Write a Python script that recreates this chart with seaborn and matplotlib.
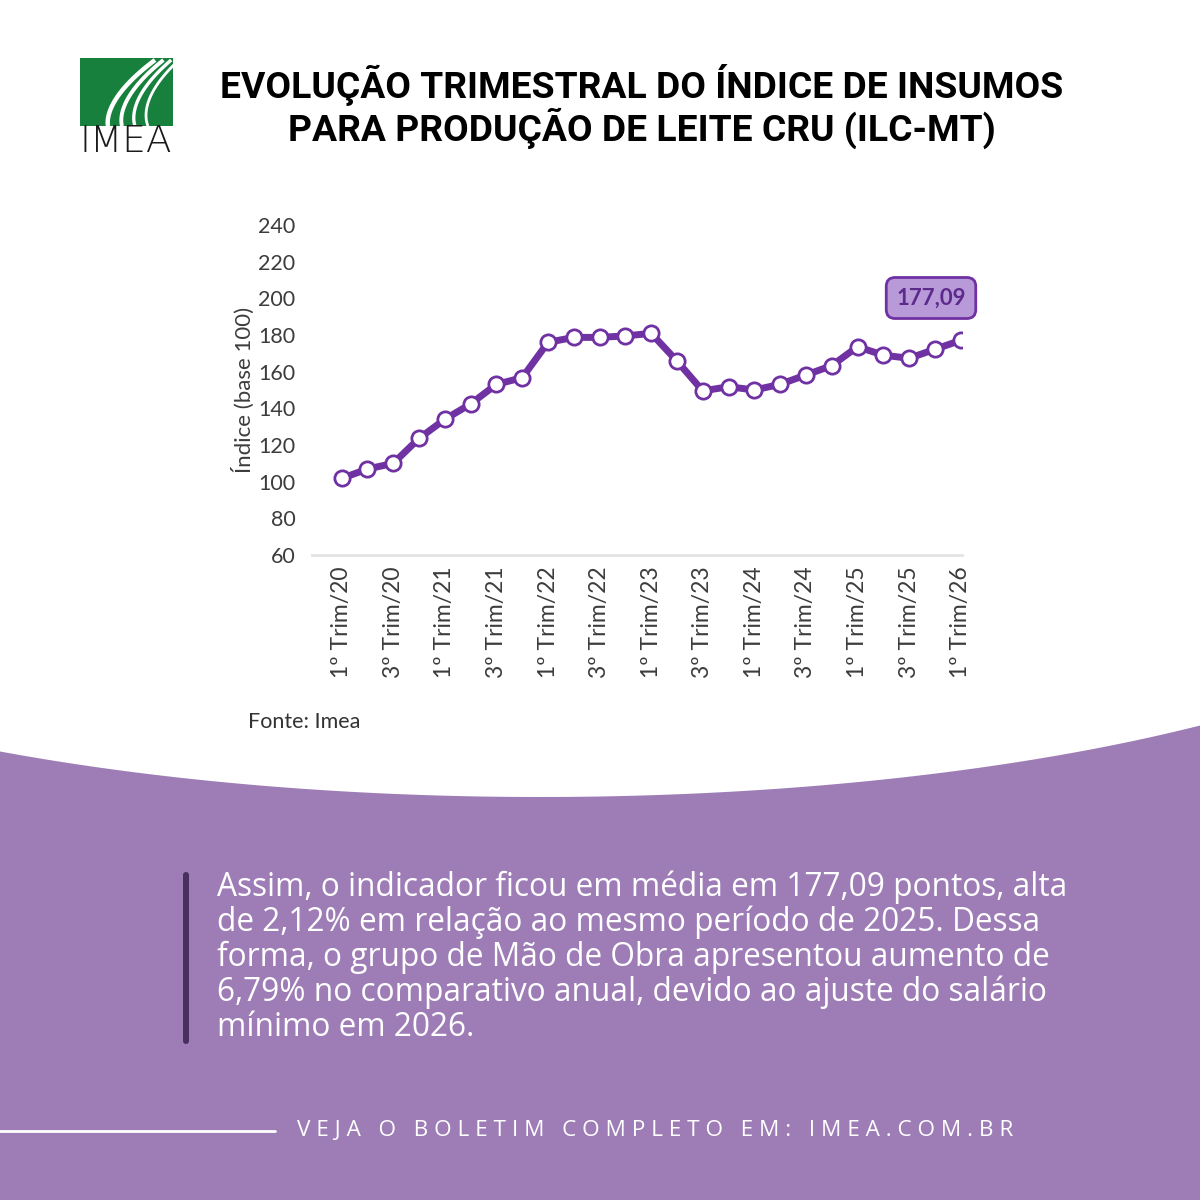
import numpy as np
import pandas as pd
import matplotlib.pyplot as plt
import seaborn as sns
from matplotlib.patches import Rectangle, Polygon, FancyBboxPatch

# dados (ILC-MT, base 100)
trimestres = ['1º Trim/20', '2º Trim/20', '3º Trim/20', '4º Trim/20',
              '1º Trim/21', '2º Trim/21', '3º Trim/21', '4º Trim/21',
              '1º Trim/22', '2º Trim/22', '3º Trim/22', '4º Trim/22',
              '1º Trim/23', '2º Trim/23', '3º Trim/23', '4º Trim/23',
              '1º Trim/24', '2º Trim/24', '3º Trim/24', '4º Trim/24',
              '1º Trim/25', '2º Trim/25', '3º Trim/25', '4º Trim/25',
              '1º Trim/26']
indice = [101.8, 106.9, 110.0, 123.6, 134.0, 142.4, 153.1, 156.7,
          176.0, 178.7, 178.7, 179.5, 180.9, 165.8, 149.5, 151.8,
          150.0, 153.1, 158.2, 163.3, 173.6, 169.0, 167.3, 172.2, 177.09]
y_ticks = [60, 80, 100, 120, 140, 160, 180, 200, 220, 240]

df = pd.DataFrame({'trim': trimestres, 'indice': indice})
df['pos'] = range(len(df))

roxo_fundo = '#9e7db7'
roxo_linha = '#7031a3'

sns.set_theme(style='white')
plt.rcParams['font.family'] = ['Lato', 'DejaVu Sans']

fig = plt.figure(figsize=(12, 12), dpi=100)
fig.patch.set_facecolor('white')

# fundo em coordenadas de pixel
bg = fig.add_axes([0, 0, 1, 1])
bg.set_xlim(0, 1200)
bg.set_ylim(1200, 0)
bg.axis('off')

xs = np.linspace(0, 1200, 400)
cx, a, b, ybot = 540, 1004, 290, 797
u = np.clip((xs - cx) / a, -1, 1)
curva = ybot - b * (1 - np.sqrt(1 - u ** 2))
pts = np.column_stack([xs, curva])
pts = np.vstack([pts, [[1200, 1200], [0, 1200]]])
bg.add_patch(Polygon(pts, closed=True, facecolor=roxo_fundo, edgecolor='none'))

# logo IMEA
verde = '#17803c'
bg.add_patch(Rectangle((80, 58), 93, 68, facecolor=verde, edgecolor='none'))
t = np.linspace(0, 1, 50)
for k, off in enumerate([0, 14, 27, 40]):
    x0 = 100 + off
    xc = x0 + 8 * (1 - t) ** 2 + 55 * t ** 1.6 - 0.4 * off * t
    yc = 126 - 66 * t
    bg.plot(xc, yc, color='white', lw=3.2 - 0.4 * k, solid_capstyle='butt')
bg.text(126, 142, 'IMEA', ha='center', va='center', fontsize=27,
        color='#1b1b1b', family='DejaVu Sans', fontweight='light')

# titulo
bg.text(642, 85, 'EVOLUÇÃO TRIMESTRAL DO ÍNDICE DE INSUMOS', ha='center', va='center',
        fontsize=26.8, fontweight='bold', color='black', family='Roboto')
bg.text(642, 128, 'PARA PRODUÇÃO DE LEITE CRU (ILC-MT)', ha='center', va='center',
        fontsize=26.8, fontweight='bold', color='black', family='Roboto')

# grafico
ax = fig.add_axes([312 / 1200, 1 - 555 / 1200, 650 / 1200, 330 / 1200])
ax.set_facecolor('none')
sns.lineplot(data=df, x='pos', y='indice', ax=ax, color=roxo_linha, lw=5,
             marker='o', markersize=11, markerfacecolor='white',
             markeredgecolor=roxo_linha, markeredgewidth=2)
ax.set_xlim(-1.15, 24.05)
ax.set_ylim(60, 240)
ax.set_yticks(y_ticks)
ax.set_xticks(df['pos'][::2])
ax.set_xticklabels(df['trim'][::2], rotation=90, fontsize=16.5, color='#3c3c3c')
ax.tick_params(axis='y', labelsize=15.5, labelcolor='#3c3c3c', length=0, pad=12)
ax.tick_params(axis='x', length=0, pad=8)
ax.set_xlabel('')
ax.set_ylabel('Índice (base 100)', fontsize=16, color='#3c3c3c', labelpad=2)
for s in ['top', 'right', 'left']:
    ax.spines[s].set_visible(False)
ax.spines['bottom'].set_color('#e3e3e3')
ax.spines['bottom'].set_linewidth(2)
ax.grid(False)

ult = df.iloc[-1]
ax.annotate('177,09', xy=(ult['pos'], ult['indice']), xytext=(931 / 1200, 1 - 298 / 1200),
            textcoords='figure fraction', ha='center', va='center',
            fontsize=16, fontweight='bold', color='#5b2a8c',
            bbox=dict(boxstyle='round,pad=0.45,rounding_size=0.4', fc='#b99ad8',
                      ec=roxo_linha, lw=2))

bg.text(248, 722, 'Fonte: Imea', ha='left', va='center', fontsize=15.5, color='#333333')

# texto inferior
bg.add_patch(FancyBboxPatch((183, 872), 6, 172, boxstyle='round,pad=0,rounding_size=3',
                            facecolor='#47305e', edgecolor='none'))
paragrafo = ['Assim, o indicador ficou em média em 177,09 pontos, alta',
             'de 2,12% em relação ao mesmo período de 2025. Dessa',
             'forma, o grupo de Mão de Obra apresentou aumento de',
             '6,79% no comparativo anual, devido ao ajuste do salário',
             'mínimo em 2026.']
for i, linha in enumerate(paragrafo):
    bg.text(217, 887 + i * 35, linha, ha='left', va='center', fontsize=22.8,
            color='white', family='Open Sans')

bg.plot([0, 275], [1131, 1131], color='white', lw=2)
rodape = 'VEJA O BOLETIM COMPLETO EM: IMEA.COM.BR'
bg.text(297, 1131, ' '.join(rodape), ha='left', va='center', fontsize=16.2,
        color='white', family='Open Sans')

fig.savefig('out.png', dpi=100, facecolor=fig.get_facecolor())
